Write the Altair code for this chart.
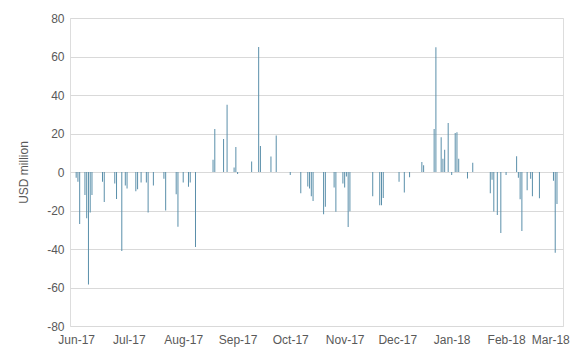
import altair as alt
import pandas as pd

dates = [
    "2017-06-01", "2017-06-02", "2017-06-03", "2017-06-06", "2017-06-07", "2017-06-08",
    "2017-06-09", "2017-06-10", "2017-06-16", "2017-06-17", "2017-06-23", "2017-06-24",
    "2017-06-27", "2017-06-29", "2017-06-30",
    "2017-07-05", "2017-07-06", "2017-07-08", "2017-07-11", "2017-07-12", "2017-07-15",
    "2017-07-21", "2017-07-22", "2017-07-28", "2017-07-29",
    "2017-08-01", "2017-08-04", "2017-08-05", "2017-08-08", "2017-08-18", "2017-08-19",
    "2017-08-24", "2017-08-26", "2017-08-30", "2017-08-31",
    "2017-09-01", "2017-09-09", "2017-09-13", "2017-09-14", "2017-09-20", "2017-09-23",
    "2017-10-01", "2017-10-07", "2017-10-11", "2017-10-12", "2017-10-13", "2017-10-14",
    "2017-10-20", "2017-10-21", "2017-10-26", "2017-10-27", "2017-10-31",
    "2017-11-01", "2017-11-02", "2017-11-03", "2017-11-04", "2017-11-17", "2017-11-21",
    "2017-11-22", "2017-11-23",
    "2017-12-02", "2017-12-05", "2017-12-08", "2017-12-15", "2017-12-16", "2017-12-22",
    "2017-12-23", "2017-12-26", "2017-12-27", "2017-12-28", "2017-12-30",
    "2018-01-01", "2018-01-03", "2018-01-04", "2018-01-05", "2018-01-10", "2018-01-13",
    "2018-01-23", "2018-01-24", "2018-01-25", "2018-01-27", "2018-01-29",
    "2018-02-01", "2018-02-07", "2018-02-08", "2018-02-09", "2018-02-10", "2018-02-13",
    "2018-02-15", "2018-02-16", "2018-02-20", "2018-02-28",
    "2018-03-01", "2018-03-02",
]

values = [
    -3, -5, -27, -12, -24, -58.5,
    -21, -12, -5, -15.6, -6, -14,
    -41, -7, -8.6,
    -10, -9, -5.5, -5.5, -21, -7,
    -3.5, -20, -11.6, -28.5,
    -5.5, -7.6, -5.5, -39, 6.4, 22.4,
    17.2, 35, 2.4, 13,
    -1, 5.4, 65, 13.5, 8, 19,
    -1.5, -11, -7.5, -8.6, -12.6, -15,
    -22, -18, -8, -20.7, -6,
    -8, -2.4, -28.6, -20.4, -12.6, -17.3,
    -17.3, -13.5,
    -5, -10.7, -2.7, 5.2, 3.5, 22.4,
    64.8, 18, 6.9, 11.6, 25.4,
    -1.5, 20.2, 20.7, 6.9, -3.4, 4.8,
    -11, -4, -20.5, -22.4, -31.7,
    -1.5, 8.2, -3, -14.2, -30.7, -9.5,
    -3.5, -12.6, -13.7, -4.5,
    -42, -16.6,
]

month_ticks = [(2017, 6), (2017, 7), (2017, 8), (2017, 9), (2017, 10), (2017, 11),
               (2017, 12), (2018, 1), (2018, 2), (2018, 3)]
y_ticks = [-80, -60, -40, -20, 0, 20, 40, 60, 80]

df = pd.DataFrame({"date": dates, "value": values})

grey = "#595959"
font = "Liberation Sans"

x = alt.X(
    "date:T",
    scale=alt.Scale(
        type="utc",
        domain=[alt.DateTime(year=2017, month=5, date=31, hours=8, utc=True),
                alt.DateTime(year=2018, month=3, date=2, hours=14, utc=True)],
    ),
    axis=alt.Axis(
        title=None,
        values=[alt.DateTime(year=y, month=m, date=1, utc=True) for y, m in month_ticks],
        labelExpr="utcFormat(datum.value, '%b-%y')",
        grid=False,
        ticks=False,
        domain=False,
        labelPadding=8,
        labelFont=font,
        labelFontSize=12,
        labelColor=grey,
        labelOverlap=False,
        labelOffset={"condition": {"test": "utcmonth(datum.value) == 2", "value": -5}, "value": 0},
    ),
)

y = alt.Y(
    "value:Q",
    scale=alt.Scale(domain=[-80, 80], nice=False),
    axis=alt.Axis(
        title="USD million",
        values=y_ticks,
        labelExpr="'' + datum.value",
        grid=True,
        gridColor="#D9D9D9",
        gridWidth=1,
        ticks=False,
        domain=False,
        labelPadding=6,
        labelFont=font,
        labelFontSize=12,
        labelColor=grey,
        titleFont=font,
        titleFontSize=12,
        titleFontWeight="normal",
        titleColor=grey,
        titlePadding=16,
    ),
)

chart = (
    alt.Chart(df)
    .mark_bar(size=1, color="#5A8FAA")
    .encode(x=x, y=y)
    .properties(
        width=493,
        height=308,
        autosize=alt.AutoSizeParams(type="none"),
        padding={"left": 62, "top": 10, "right": 11, "bottom": 30},
    )
    .configure_view(stroke=None)
    .configure(background="white")
)

chart.save("out.html", embed_options={"renderer": "svg", "actions": False})
